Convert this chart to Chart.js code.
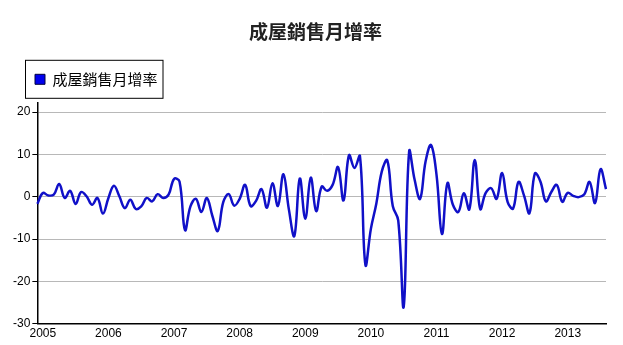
<!DOCTYPE html>
<html>
<head>
<meta charset="utf-8">
<script src="https://cdn.jsdelivr.net/npm/chart.js@4.4.0/dist/chart.umd.min.js"></script>
<style>
    html, body { margin: 0; padding: 0; background: #fff; }
    #wrap { width: 623px; height: 345px; }
</style>
</head>
<body>
<div id="wrap"><canvas id="myChart"></canvas></div>
<script>
        // monthly series, Dec 2004 .. Aug 2013
        const startYear = 2004;
        const startMonth = 12;
        const seriesName = '成屋銷售月增率';
        const values = [
            -1.7,
            0.9, 0.3, 0.5, 3.0, -0.3, 1.4, -1.7, 1.1, 0.1, -1.9, -0.3, -4.0,
            -0.3, 2.6, 0.1, -2.7, -0.7, -2.9, -2.3, -0.3, -1.1, 0.6, -0.3, 0.5,
            4.2, 3.6, -7.9, -2.3, -0.5, -3.6, -0.3, -4.5, -8.1, -1.3, 0.6, -2.1,
            -0.5, 2.8, -2.2, -1.0, 1.8, -2.6, 3.2, -2.2, 5.3, -3.0, -9.3, 4.3,
            -5.2, 4.5, -3.4, 2.4, 1.4, 2.8, 7.0, -0.9, 9.8, 6.8, 9.6, -16.1,
            -7.6, -1.6, 6.0, 8.6, -2.2, -5.6, -26.0, 10.7, 4.0, -0.5, 8.3, 12.2,
            5.2, -8.8, 3.2, -1.9, -3.6, 0.8, -3.0, 8.7, -2.9, 0.9, 2.0, -0.5,
            5.6, -1.2, -2.8, 3.5, 0.3, -3.9, 5.5, 3.6, -1.1, 1.1, 2.8, -1.2,
            0.9, 0.2, -0.1, 0.5, 3.5, -1.5, 6.5, 1.8
        ];
        const yTicks = [-30, -20, -10, 0, 10, 20];

        const labels = values.map((_, i) => {
            const m = (startMonth - 1 + i) % 12 + 1;
            const y = startYear + Math.floor((startMonth - 1 + i) / 12);
            return `${y}-${m}`;
        });

        const legendExtra = 6;
        const legendBox = {
            id: 'legendBox',
            beforeInit(chart) {
                const lg = chart.legend;
                const fit = lg.fit;
                lg.fit = function () {
                    fit.bind(lg)();
                    this.height += legendExtra;
                };
            },
            afterLayout(chart) {
                const lg = chart.legend;
                const shift = 25 - lg.left;
                lg.left += shift;
                lg.right += shift;
                // title sits a little right of the plot centre
                const t = chart.titleBlock;
                t.left += 7;
                t.right += 7;
            },
            afterDraw(chart) {
                const lg = chart.legend;
                const o = lg.options.labels;
                const ctx = chart.ctx;
                ctx.save();
                ctx.font = `${o.font.size}px ${o.font.family}`;
                const w = ctx.measureText(seriesName).width + o.boxWidth + o.font.size / 2 + o.padding + 5;
                ctx.strokeStyle = '#000';
                ctx.lineWidth = 1;
                ctx.strokeRect(lg.left + 0.5, lg.top - 1.5, w, 38);
                ctx.restore();
            }
        };

        const ctx = document.getElementById('myChart').getContext('2d');
        const myChart = new Chart(ctx, {
            type: 'line',
            data: {
                labels: labels,
                datasets: [{
                    label: seriesName,
                    data: values,
                    borderColor: '#1010c8',
                    backgroundColor: '#0000ee',
                    borderWidth: 2.5,
                    pointRadius: 0,
                    tension: 0.4,
                    fill: false
                }]
            },
            options: {
                responsive: true,
                maintainAspectRatio: false,
                animation: false,
                layout: { padding: { left: 11, right: 17, top: 0, bottom: 1 } },
                plugins: {
                    title: {
                        display: true,
                        text: seriesName,
                        color: '#222',
                        font: { family: '"Noto Sans CJK TC"', size: 19, weight: 'bold' },
                        padding: { top: 20, bottom: 19 }
                    },
                    legend: {
                        display: true,
                        position: 'top',
                        align: 'start',
                        labels: {
                            boxWidth: 10,
                            boxHeight: 10,
                            padding: 10,
                            color: '#000',
                            font: { family: '"Noto Sans CJK TC"', size: 15 },
                            generateLabels(chart) {
                                return Chart.defaults.plugins.legend.labels.generateLabels(chart).map(item => {
                                    item.lineWidth = 1;
                                    item.strokeStyle = '#000040';
                                    return item;
                                });
                            }
                        }
                    },
                    tooltip: { enabled: false }
                },
                scales: {
                    x: {
                        type: 'category',
                        offset: false,
                        grid: { display: false, drawTicks: false, tickLength: 0 },
                        border: { display: true, color: '#000', width: 1.5 },
                        ticks: {
                            autoSkip: false,
                            maxRotation: 0,
                            padding: 3,
                            color: '#000',
                            font: { family: '"Liberation Sans"', size: 12 },
                            callback: function (val, index) {
                                const lab = this.getLabelForValue(val);
                                return lab.endsWith('-1') ? lab.split('-')[0] : null;
                            }
                        }
                    },
                    y: {
                        min: -30,
                        max: 22.2,
                        afterBuildTicks: scale => {
                            scale.ticks = yTicks.map(v => ({ value: v }));
                        },
                        grid: { color: '#b8b8b8', lineWidth: 1, tickColor: '#000', tickLength: 5 },
                        border: { display: true, color: '#000', width: 1.5 },
                        ticks: {
                            padding: 2,
                            color: '#000',
                            font: { family: '"Liberation Sans"', size: 12 }
                        }
                    }
                }
            },
            plugins: [legendBox]
        });
</script>
</body>
</html>
